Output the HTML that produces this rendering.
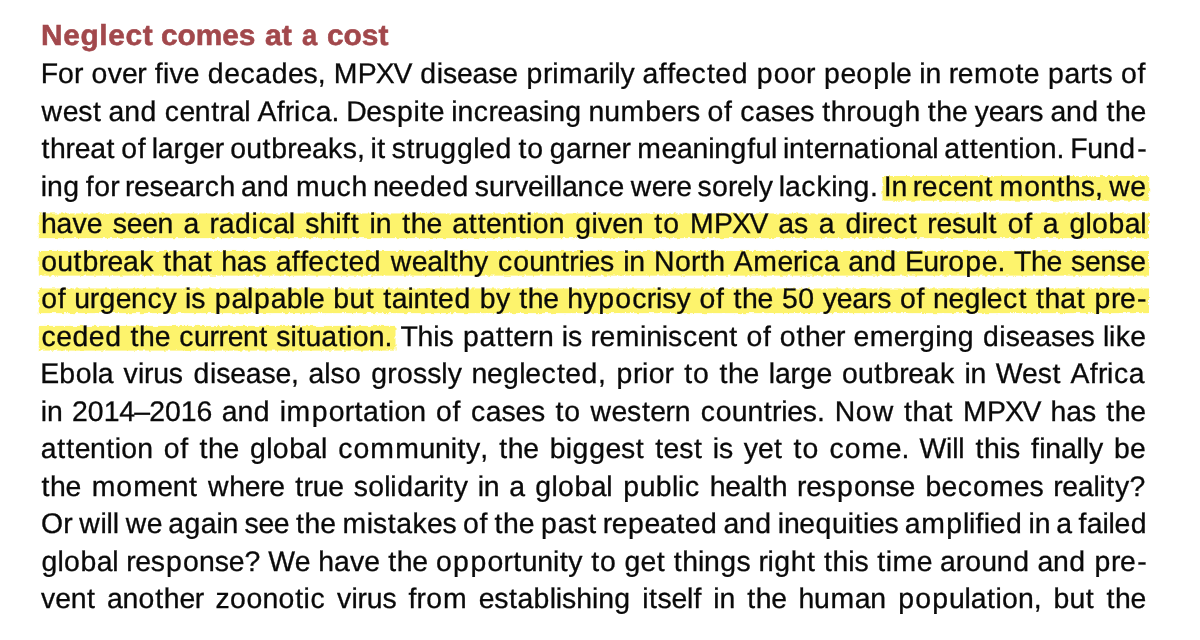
<!DOCTYPE html>
<html lang="en"><head><meta charset="utf-8"><title>Neglect comes at a cost</title>
<style>
html,body{margin:0;padding:0;background:#fff}
body{width:1200px;height:640px;overflow:hidden;position:relative;font-family:"Liberation Sans",sans-serif}
#w{position:absolute;left:0;top:0;width:1200px;height:640px;will-change:transform;text-rendering:geometricPrecision}
#hl{position:absolute;left:0;top:0}
.l{position:absolute;margin:0;left:40.90px;white-space:nowrap;font-size:28.4px;line-height:38px;height:38px;color:#0a0a0a;letter-spacing:0;-webkit-text-stroke:0.3px #0a0a0a}
.l b{font-weight:normal}
.t{position:absolute;margin:0;transform-origin:0 50%;top:17px;font-size:29px;line-height:38px;font-weight:bold;color:#a2484c;white-space:nowrap;-webkit-text-stroke:0.55px #a2484c}
.n13{letter-spacing:-1.3px}
.n10{letter-spacing:-1.0px}
.n8{letter-spacing:-0.8px}
.n6{letter-spacing:-0.6px}
.n5{letter-spacing:-0.5px}
.n4{letter-spacing:-0.4px}
.n3{letter-spacing:-0.3px}
.n2{letter-spacing:-0.2px}
.n1{letter-spacing:-0.1px}
.p1{letter-spacing:0.1px}
.p2{letter-spacing:0.2px}
.p3{letter-spacing:0.3px}
.p4{letter-spacing:0.4px}
.p5{letter-spacing:0.5px}
.p6{letter-spacing:0.6px}
.p7{letter-spacing:0.7px}
.p8{letter-spacing:0.8px}
.p9{letter-spacing:0.9px}
.p10{letter-spacing:1.0px}
.p11{letter-spacing:1.1px}
.p12{letter-spacing:1.2px}
.p13{letter-spacing:1.3px}
.p14{letter-spacing:1.4px}
.p15{letter-spacing:1.5px}
.p17{letter-spacing:1.7px}
.p22{letter-spacing:2.2px}

</style></head>
<body>
<div id="w">
<svg id="hl" width="1200" height="640" viewBox="0 0 1200 640"><defs><filter id="b" filterUnits="userSpaceOnUse" x="0" y="0" width="1200" height="640"><feTurbulence type="fractalNoise" baseFrequency="0.25" numOctaves="2" seed="7" result="n"/><feDisplacementMap in="SourceGraphic" in2="n" scale="3.5" xChannelSelector="R" yChannelSelector="G" result="d"/><feGaussianBlur in="d" stdDeviation="0.4"/></filter></defs><g fill="#fdf36c" filter="url(#b)">
<rect x="882.5" y="176.0" width="266.70" height="24.7"/>
<rect x="38.8" y="213.45" width="1110.20" height="24.7"/>
<rect x="38.8" y="250.95" width="1110.20" height="24.7"/>
<rect x="38.8" y="288.45" width="1110.20" height="24.7"/>
<rect x="38.8" y="325.9" width="356.70" height="24.7"/>
</g></svg>
<div class="t" style="left:40.85px;letter-spacing:0.62px;transform:scaleX(1.0300)">Neglect</div>
<div class="t" style="left:160.67px;letter-spacing:-0.04px;transform:scaleX(1.0300)">comes</div>
<div class="t" style="left:265.05px;letter-spacing:0.00px;transform:scaleX(1.0447)">at</div>
<div class="t" style="left:301.57px;letter-spacing:0.00px;transform:scaleX(0.9434)">a</div>
<div class="t" style="left:326.98px;letter-spacing:-0.02px;transform:scaleX(1.0300)">cost</div>
<p class="l" style="top:55px;text-indent:-0.24px;word-spacing:-0.059px"><span><b class="p1">For</b></span> <span><b class="p5">o</b>v<b class="n4">e</b><b class="p2">r</b></span> <span><b class="p3">f</b><b class="p2">i</b>v<b class="p5">e</b></span> <span><b class="p5">de</b><b class="p6">ca</b><b class="p5">d</b><b class="n2">e</b>s<b class="p4">,</b></span> <span><b class="p3">M</b><b class="n10">P</b><b class="n13">X</b><b class="p1">V</b></span> <span><b class="p6">d</b>i<b class="n2">s</b><b class="n3">e</b>a<b class="n2">s</b><b class="p6">e</b></span> <span><b class="p7">p</b><b class="n3">r</b><b class="p6">im</b><b class="n2">a</b><b class="n3">r</b><b class="n2">i</b>ly</span> <span><b class="p3">a</b><b class="p7">f</b><b class="p1">f</b><b class="p5">e</b><b class="p13">c</b><b class="p4">t</b><b class="p5">e</b><b class="p15">d</b></span> <span><b class="p12">p</b><b class="p6">o</b><b class="p1">o</b><b class="p7">r</b></span> <span><b class="p6">p</b><b class="p1">e</b><b class="p12">o</b><b class="p8">p</b><b class="n3">le</b></span> <span><b class="n2">i</b><b class="n3">n</b></span> <span><b class="n4">r</b><b class="p5">e</b><b class="p10">m</b><b class="p9">o</b><b class="p4">t</b><b class="p6">e</b></span> <span><b class="p8">p</b><b class="n2">a</b><b class="p4">r</b><b class="p6">t</b><b class="p3">s</b></span> <span><b class="p7">o</b><b class="p4">f</b></span></p>
<p class="l" style="top:93px;text-indent:0.72px;word-spacing:-0.813px"><span><b class="p5">w</b><b class="n2">e</b><b class="p6">st</b></span> <span><b class="n2">a</b><b class="p5">n</b><b class="p14">d</b></span> <span><b class="p5">c</b><b class="n4">e</b><b class="p5">n</b><b class="p4">t</b><b class="n2">ral</b></span> <span><b class="p3">A</b><b class="p2">f</b><b class="n3">r</b><b class="p6">ic</b>a<b class="n2">.</b></span> <span><b class="n5">D</b><b class="n2">e</b><b class="p9">s</b><b class="p8">p</b><b class="p5">i</b><b class="p4">t</b><b class="n3">e</b></span> <span><b class="n2">i</b><b class="p6">n</b><b class="p5">c</b><b class="n4">r</b><b class="n3">e</b>as<b class="n2">i</b><b class="p4">ng</b></span> <span><b class="n2">n</b><b class="p6">u</b><b class="p11">m</b><b class="p2">b</b><b class="n4">e</b><b class="n2">r</b><b class="p3">s</b></span> <span><b class="p7">o</b><b class="p11">f</b></span> <span><b class="p6">c</b>a<b class="n2">se</b><b class="p6">s</b></span> <span><b class="p6">t</b><b class="n2">h</b><b class="p1">r</b><b class="p2">o</b><b class="p4">u</b><b class="p5">g</b><b class="p6">h</b></span> <span><b class="p6">t</b><b class="n2">h</b><b class="n1">e</b></span> <span><b class="n1">y</b><b class="n3">e</b><b class="n2">ar</b>s</span> <span><b class="n2">a</b><b class="p5">n</b><b class="p13">d</b></span> <span><b class="p6">t</b><b class="n2">he</b></span></p>
<p class="l" style="top:130px;text-indent:0.60px;word-spacing:-2.036px"><span><b class="p6">t</b><b class="n2">h</b><b class="n4">r</b><b class="n3">e</b><b class="p6">a</b><b class="p9">t</b></span> <span><b class="p7">o</b><b class="p3">f</b></span> <span><b class="n2">la</b><b class="p3">rg</b><b class="n4">e</b><b class="p1">r</b></span> <span><b class="p2">o</b><b class="p5">u</b><b class="p10">t</b><b class="p2">b</b><b class="n4">r</b><b class="n3">e</b><b class="p4">ak</b>s<b class="n1">,</b></span> <span><b class="p5">i</b><b class="p6">t</b></span> <span><b class="p6">s</b><b class="p4">t</b><b class="n3">r</b><b class="p4">u</b><b class="p10">g</b><b class="p4">g</b><b class="n3">l</b><b class="p5">e</b><b class="p13">d</b></span> <span><b class="p9">t</b><b class="p8">o</b></span> <span><b class="p5">g</b><b class="n2">a</b><b class="n3">r</b><b class="n4">ne</b><b class="p5">r</b></span> <span><b class="p5">m</b><b class="n3">e</b><b class="n2">ani</b><b class="p4">n</b><b class="p9">g</b><b class="p3">f</b><b class="n2">ul</b></span> <span><b class="n2">i</b><b class="p5">n</b><b class="p4">t</b><b class="n4">e</b><b class="n3">r</b><b class="n2">n</b><b class="p6">a</b><b class="p5">t</b><b class="p3">i</b><b class="p2">o</b><b class="n2">nal</b></span> <span><b class="p6">a</b><b class="p12">t</b><b class="p4">t</b><b class="n4">e</b><b class="p5">nt</b><b class="p3">i</b><b class="p2">o</b>n<b class="n1">.</b></span> <span><b class="n3">F</b><b class="n2">u</b><b class="p5">n</b><b class="p22">d</b><b class="p15">-</b></span></p>
<p class="l" style="top:168px;text-indent:-0.05px;word-spacing:-2.115px"><span><b class="n2">i</b><b class="p4">n</b><b class="p9">g</b></span> <span><b class="p7">f</b><b class="p1">o</b><b class="n4">r</b></span> <span><b class="n4">r</b><b class="n2">es</b><b class="n3">e</b><b class="n2">a</b><b class="p5">r</b><b class="p7">c</b><b class="n1">h</b></span> <span><b class="n2">a</b><b class="p5">n</b><b class="p14">d</b></span> <span><b class="p6">mu</b><b class="p7">c</b><b class="n2">h</b></span> <span><b class="n4">ne</b><b class="p5">ede</b><b class="p7">d</b></span> <span><b class="n1">s</b><b class="n3">u</b>rv<b class="n3">e</b><b class="n2">illa</b><b class="p6">n</b><b class="p5">ce</b></span> <span><b class="p5">w</b><b class="n4">er</b><b class="n2">e</b></span> <span><b class="p3">s</b><b class="p1">o</b><b class="n4">r</b><b class="n3">e</b>ly</span> <span><b class="n2">l</b><b class="p6">a</b><b class="p11">c</b><b class="p4">k</b><b class="n2">i</b><b class="p4">n</b><b class="p6">g</b><b class="p1">.</b></span> <span><b class="n1">I</b><b class="n3">n</b></span> <span><b class="n4">r</b><b class="p5">ec</b><b class="n4">e</b><b class="p5">n</b><b class="p13">t</b></span> <span><b class="p10">m</b><b class="p2">o</b><b class="p5">n</b><b class="p6">t</b>hs<b class="p7">,</b></span> <span><b class="p5">w</b><b class="n2">e</b></span></p>
<p class="l" style="top:205px;text-indent:-0.01px;word-spacing:2.459px"><span><b class="n1">h</b><b class="p2">a</b>v<b class="n2">e</b></span> <span><b class="n2">s</b><b class="n4">ee</b><b class="n2">n</b></span> <span><b class="n2">a</b></span> <span><b class="n2">r</b><b class="p6">adic</b><b class="n2">a</b><b class="n1">l</b></span> <span>s<b class="n1">h</b><b class="p3">i</b><b class="p10">f</b><b class="p5">t</b></span> <span><b class="n2">i</b><b class="p5">n</b></span> <span><b class="p6">t</b><b class="n2">h</b><b class="n3">e</b></span> <span><b class="p6">a</b><b class="p12">t</b><b class="p4">t</b><b class="n4">e</b><b class="p5">nt</b><b class="p3">i</b><b class="p2">o</b><b class="p4">n</b></span> <span><b class="p5">g</b><b class="p2">i</b>v<b class="n4">e</b><b class="p5">n</b></span> <span><b class="p9">t</b><b class="p8">o</b></span> <span><b class="p3">M</b><b class="n10">P</b><b class="n13">X</b><b class="n6">V</b></span> <span>as</span> <span><b class="p6">a</b></span> <span><b class="p6">d</b><b class="n3">i</b><b class="n4">r</b><b class="p5">e</b><b class="p13">c</b><b class="p4">t</b></span> <span><b class="n4">r</b><b class="n2">e</b><b class="n1">s</b><b class="n2">u</b><b class="p5">l</b><b class="p9">t</b></span> <span><b class="p7">o</b><b class="p3">f</b></span> <span><b class="p5">a</b></span> <span><b class="p4">g</b><b class="p2">l</b><b class="p7">o</b><b class="p3">b</b><b class="n2">a</b><b class="n1">l</b></span></p>
<p class="l" style="top:243px;text-indent:0.31px;word-spacing:0.952px"><span><b class="p2">o</b><b class="p5">u</b><b class="p10">t</b><b class="p2">b</b><b class="n4">r</b><b class="n3">e</b><b class="p4">a</b><b class="p10">k</b></span> <span><b class="p6">t</b><b class="n1">h</b><b class="p6">at</b></span> <span><b class="n1">h</b>as</span> <span><b class="p3">a</b><b class="p7">f</b><b class="p1">f</b><b class="p5">e</b><b class="p13">c</b><b class="p4">t</b><b class="p5">e</b><b class="p14">d</b></span> <span><b class="p5">w</b><b class="n3">e</b><b class="n2">a</b><b class="p5">l</b><b class="p6">t</b><b class="p1">h</b><b class="p8">y</b></span> <span><b class="p10">c</b><b class="p2">o</b><b class="n2">u</b><b class="p5">n</b><b class="p4">t</b><b class="n3">ri</b><b class="n2">e</b>s</span> <span><b class="n2">i</b><b class="p1">n</b></span> <span><b class="p5">N</b><b class="p1">o</b><b class="p4">r</b><b class="p6">t</b><b class="n1">h</b></span> <span><b class="p6">A</b><b class="p5">m</b><b class="n4">e</b><b class="n3">r</b><b class="p6">ic</b><b class="n1">a</b></span> <span><b class="n2">a</b><b class="p5">n</b><b class="p1">d</b></span> <span><b class="n6">E</b><b class="n3">u</b><b class="p1">r</b><b class="p12">o</b><b class="p6">p</b><b class="n1">e</b><b class="n2">.</b></span> <span><b class="n3">T</b><b class="n2">he</b></span> <span><b class="n2">s</b><b class="n4">e</b><b class="n1">n</b><b class="n2">se</b></span></p>
<p class="l" style="top:280px;text-indent:0.31px;word-spacing:0.500px"><span><b class="p7">o</b><b class="p3">f</b></span> <span><b class="n3">u</b><b class="p3">rg</b><b class="n4">e</b><b class="p6">n</b><b class="p8">c</b>y</span> <span>i<b class="p9">s</b></span> <span><b class="p8">p</b><b class="n2">a</b><b class="p8">lp</b><b class="p3">ab</b><b class="n3">l</b><b class="p2">e</b></span> <span><b class="p3">b</b><b class="p5">u</b><b class="p12">t</b></span> <span><b class="p6">t</b><b class="n1">a</b><b class="n2">i</b><b class="p5">n</b><b class="p4">t</b><b class="p5">e</b><b class="p11">d</b></span> <span><b class="p5">b</b><b class="p7">y</b></span> <span><b class="p6">t</b><b class="n2">he</b></span> <span><b class="p1">h</b><b class="p9">y</b><b class="p12">p</b><b class="p10">o</b><b class="p5">c</b><b class="n3">r</b>i<b class="p1">s</b><b class="p4">y</b></span> <span><b class="p7">o</b><b class="p10">f</b></span> <span><b class="p6">t</b><b class="n2">h</b><b class="p2">e</b></span> <span><b class="p6">5</b><b class="p3">0</b></span> <span><b class="n1">y</b><b class="n3">e</b><b class="n2">ar</b><b class="p3">s</b></span> <span><b class="p7">o</b><b class="p2">f</b></span> <span><b class="n4">n</b><b class="p3">e</b><b class="p4">g</b><b class="n3">l</b><b class="p5">e</b><b class="p13">c</b><b class="p12">t</b></span> <span><b class="p6">t</b><b class="n1">h</b><b class="p6">a</b><b class="p15">t</b></span> <span><b class="p7">p</b><b class="n4">r</b><b class="p13">e</b><b class="p15">-</b></span></p>
<p class="l" style="top:318px;text-indent:0.70px;word-spacing:0.414px"><span><b class="p5">cede</b><b class="p13">d</b></span> <span><b class="p6">t</b><b class="n2">h</b><b class="p5">e</b></span> <span><b class="p6">c</b><b class="n3">u</b><b class="n4">rre</b><b class="p5">n</b><b class="p6">t</b></span> <span>s<b class="p5">it</b><b class="n1">u</b><b class="p6">a</b><b class="p5">t</b><b class="p3">i</b><b class="p2">o</b>n<b class="n2">.</b></span> <span><b class="n3">T</b><b class="n1">h</b>i<b class="p9">s</b></span> <span><b class="p8">p</b><b class="p6">a</b><b class="p12">t</b><b class="p4">t</b><b class="n4">e</b><b class="n3">r</b><b class="n2">n</b></span> <span>i<b class="n2">s</b></span> <span><b class="n4">r</b><b class="p5">e</b><b class="p6">m</b><b class="n2">in</b>i<b class="p7">s</b><b class="p5">c</b><b class="n4">e</b><b class="p5">n</b><b class="p9">t</b></span> <span><b class="p7">of</b></span> <span><b class="p9">o</b><b class="p6">t</b><b class="n2">h</b><b class="n4">er</b></span> <span><b class="p5">em</b><b class="n4">e</b><b class="p3">r</b><b class="p5">g</b><b class="n2">i</b><b class="p4">n</b><b class="p12">g</b></span> <span><b class="p6">d</b>i<b class="n2">s</b><b class="n3">e</b>a<b class="n2">se</b><b class="n1">s</b></span> <span><b class="n2">l</b><b class="p4">i</b><b class="p2">k</b><b class="n2">e</b></span></p>
<p class="l" style="top:355px;text-indent:-0.55px;word-spacing:1.876px"><span><b class="n1">E</b><b class="p7">b</b><b class="p2">o</b><b class="n2">l</b><b class="p2">a</b></span> <span><b class="p2">v</b><b class="n3">ir</b><b class="n1">u</b><b class="p7">s</b></span> <span><b class="p6">d</b>i<b class="n2">s</b><b class="n3">e</b>a<b class="n2">s</b><b class="n3">e</b><b class="n1">,</b></span> <span><b class="n2">a</b><b class="n1">l</b><b class="p3">s</b><b class="p8">o</b></span> <span><b class="p3">g</b><b class="p1">r</b><b class="p3">o</b>s<b class="n1">s</b>l<b class="n1">y</b></span> <span><b class="n4">n</b><b class="p3">e</b><b class="p4">g</b><b class="n3">l</b><b class="p5">e</b><b class="p13">c</b><b class="p4">t</b><b class="p5">e</b><b class="p6">d</b><b class="p8">,</b></span> <span><b class="p7">p</b><b class="n3">r</b><b class="p3">i</b><b class="p1">o</b><b class="p4">r</b></span> <span><b class="p9">to</b></span> <span><b class="p6">t</b><b class="n2">h</b><b class="n3">e</b></span> <span><b class="n2">la</b><b class="p3">rg</b><b class="p1">e</b></span> <span><b class="p2">o</b><b class="p5">u</b><b class="p10">t</b><b class="p2">b</b><b class="n4">r</b><b class="n3">e</b><b class="p4">ak</b></span> <span><b class="n2">i</b><b class="n4">n</b></span> <span><b class="n4">W</b><b class="n2">e</b><b class="p6">s</b><b class="p5">t</b></span> <span><b class="p3">A</b><b class="p2">f</b><b class="n3">r</b><b class="p6">ic</b><b class="n1">a</b></span></p>
<p class="l" style="top:393px;text-indent:-0.05px;word-spacing:1.626px"><span><b class="n2">i</b><b class="n3">n</b></span> <span>2<b class="p1">0</b><b class="n1">1</b><b class="n8">4</b><b class="n10">–</b>2<b class="p1">0</b><b class="n1">1</b>6</span> <span><b class="n2">a</b><b class="p5">n</b><b class="p6">d</b></span> <span><b class="p6">i</b><b class="p15">m</b><b class="p12">p</b><b class="p1">o</b><b class="p4">r</b><b class="p6">ta</b><b class="p5">t</b><b class="p3">i</b><b class="p2">on</b></span> <span><b class="p7">o</b><b class="p11">f</b></span> <span><b class="p6">c</b>a<b class="n2">se</b><b class="p6">s</b></span> <span><b class="p9">t</b><b class="p10">o</b></span> <span><b class="p5">w</b><b class="n2">e</b><b class="p6">s</b><b class="p4">t</b><b class="n4">e</b><b class="n3">r</b><b class="p6">n</b></span> <span><b class="p10">c</b><b class="p2">o</b><b class="n2">u</b><b class="p5">n</b><b class="p4">t</b><b class="n3">ri</b><b class="n2">e</b><b class="p1">s</b><b class="p3">.</b></span> <span><b class="p5">N</b><b class="p10">o</b><b class="p13">w</b></span> <span><b class="p6">t</b><b class="n1">h</b><b class="p6">a</b><b class="p11">t</b></span> <span><b class="p3">M</b><b class="n10">P</b><b class="n13">X</b><b class="n6">V</b></span> <span><b class="n1">h</b>a<b class="p6">s</b></span> <span><b class="p6">t</b><b class="n2">he</b></span></p>
<p class="l" style="top:430px;text-indent:-0.05px;word-spacing:2.488px"><span><b class="p6">a</b><b class="p12">t</b><b class="p4">t</b><b class="n4">e</b><b class="p5">nt</b><b class="p3">i</b><b class="p2">on</b></span> <span><b class="p7">o</b><b class="p10">f</b></span> <span><b class="p6">t</b><b class="n2">h</b><b class="p3">e</b></span> <span><b class="p4">g</b><b class="p2">l</b><b class="p7">o</b><b class="p3">b</b><b class="n2">a</b><b class="p6">l</b></span> <span><b class="p10">co</b><b class="p13">m</b><b class="p6">m</b><b class="n2">un</b><b class="p5">i</b><b class="p7">t</b>y<b class="p6">,</b></span> <span><b class="p6">t</b><b class="n2">h</b><b class="p2">e</b></span> <span><b class="p3">b</b><b class="p5">i</b><b class="p10">g</b><b class="p3">g</b><b class="n2">e</b><b class="p6">s</b><b class="p12">t</b></span> <span><b class="p4">t</b><b class="n2">e</b><b class="p6">s</b><b class="p5">t</b></span> <span>i<b class="p1">s</b></span> <span><b class="n1">y</b><b class="p4">e</b><b class="p12">t</b></span> <span><b class="p9">t</b><b class="p10">o</b></span> <span><b class="p10">co</b><b class="p5">m</b><b class="n1">e.</b></span> <span><b class="n3">W</b><b class="n2">il</b><b class="p5">l</b></span> <span><b class="p6">t</b><b class="n1">h</b>i<b class="p4">s</b></span> <span><b class="p3">f</b><b class="n2">inal</b>l<b class="p5">y</b></span> <span><b class="p2">b</b><b class="n2">e</b></span></p>
<p class="l" style="top:468px;text-indent:0.60px;word-spacing:1.921px"><span><b class="p6">t</b><b class="n2">h</b><b class="p5">e</b></span> <span><b class="p10">mo</b><b class="p5">m</b><b class="n4">e</b><b class="p5">n</b><b class="p13">t</b></span> <span><b class="p7">w</b><b class="n2">h</b><b class="n4">er</b><b class="p4">e</b></span> <span><b class="p4">t</b><b class="n3">ru</b><b class="n2">e</b></span> <span><b class="p3">s</b><b class="p2">o</b><b class="n2">l</b><b class="p6">id</b><b class="n2">a</b><b class="n3">r</b><b class="p5">i</b><b class="p7">t</b>y</span> <span><b class="n2">in</b></span> <span><b class="p5">a</b></span> <span><b class="p4">g</b><b class="p2">l</b><b class="p7">o</b><b class="p3">b</b><b class="n2">a</b><b class="p8">l</b></span> <span><b class="p8">p</b><b class="p3">ub</b><b class="n2">l</b><b class="p6">i</b><b class="p7">c</b></span> <span><b class="n2">h</b><b class="n3">e</b><b class="n2">a</b><b class="p5">l</b><b class="p6">t</b><b class="n2">h</b></span> <span><b class="n4">r</b><b class="n2">e</b><b class="p9">s</b><b class="p12">p</b><b class="p2">o</b><b class="n1">n</b><b class="n2">s</b><b class="p2">e</b></span> <span><b class="p2">b</b><b class="p5">e</b><b class="p10">co</b><b class="p5">m</b><b class="n2">es</b></span> <span><b class="n4">r</b><b class="n3">e</b><b class="n2">al</b><b class="p5">i</b><b class="p7">t</b><b class="p4">y</b><b class="p3">?</b></span></p>
<p class="l" style="top:505px;text-indent:0.21px;word-spacing:-1.836px"><span>O<b class="p5">r</b></span> <span><b class="p7">w</b><b class="n2">il</b><b class="p6">l</b></span> <span><b class="p5">w</b><b class="n3">e</b></span> <span><b class="p5">ag</b><b class="n1">a</b><b class="n2">i</b><b class="n1">n</b></span> <span><b class="n2">s</b><b class="n4">e</b><b class="p4">e</b></span> <span><b class="p6">t</b><b class="n2">h</b><b class="p5">e</b></span> <span><b class="p6">m</b>i<b class="p6">st</b><b class="p4">a</b><b class="p2">k</b><b class="n2">e</b><b class="p3">s</b></span> <span><b class="p7">o</b><b class="p10">f</b></span> <span><b class="p6">t</b><b class="n2">h</b><b class="p6">e</b></span> <span><b class="p8">p</b>a<b class="p6">s</b><b class="p4">t</b></span> <span><b class="n4">r</b><b class="p6">ep</b><b class="n3">e</b><b class="p6">a</b><b class="p4">t</b><b class="p5">e</b><b class="p6">d</b></span> <span><b class="n2">a</b><b class="p5">n</b><b class="p6">d</b></span> <span><b class="n2">i</b><b class="n4">n</b><b class="p5">e</b><b class="p6">q</b><b class="n1">u</b><b class="p5">it</b><b class="n3">i</b><b class="n2">e</b>s</span> <span><b class="p6">a</b><b class="p15">m</b><b class="p8">p</b><b class="n2">l</b><b class="p3">if</b><b class="n3">i</b><b class="p5">e</b><b class="p6">d</b></span> <span><b class="n2">in</b></span> <span><b class="p3">a</b></span> <span><b class="p3">f</b><b class="n1">a</b><b class="n2">i</b><b class="n3">l</b><b class="p5">e</b><b class="p7">d</b></span></p>
<p class="l" style="top:543px;text-indent:0.50px;word-spacing:-0.007px"><span><b class="p4">g</b><b class="p2">l</b><b class="p7">o</b><b class="p3">b</b><b class="n2">a</b><b class="n3">l</b></span> <span><b class="n4">r</b><b class="n2">e</b><b class="p9">s</b><b class="p12">p</b><b class="p2">o</b><b class="n1">n</b><b class="n2">s</b><b class="p1">e?</b></span> <span><b class="n4">W</b><b class="n2">e</b></span> <span><b class="n1">h</b><b class="p2">a</b>v<b class="p4">e</b></span> <span><b class="p6">t</b><b class="n2">h</b><b class="p1">e</b></span> <span><b class="p12">o</b><b class="p17">p</b><b class="p12">p</b><b class="p1">o</b><b class="p4">r</b><b class="p5">t</b><b class="n2">un</b><b class="p5">i</b><b class="p7">ty</b></span> <span><b class="p9">t</b><b class="p8">o</b></span> <span><b class="p3">g</b><b class="p4">e</b><b class="p12">t</b></span> <span><b class="p6">t</b><b class="n1">h</b><b class="n2">i</b><b class="p4">n</b><b class="p5">g</b><b class="n2">s</b></span> <span><b class="n3">r</b><b class="p5">ig</b><b class="p6">h</b><b class="p12">t</b></span> <span><b class="p6">t</b><b class="n1">h</b>i<b class="p6">s</b></span> <span><b class="p5">t</b><b class="p6">i</b><b class="p5">m</b><b class="n3">e</b></span> <span><b class="n2">a</b><b class="p1">r</b><b class="p2">o</b><b class="n2">u</b><b class="p5">n</b><b class="p6">d</b></span> <span><b class="n2">a</b><b class="p5">n</b><b class="p15">d</b></span> <span><b class="p7">p</b><b class="n4">r</b><b class="p13">e</b><b class="p15">-</b></span></p>
<p class="l" style="top:580px;text-indent:0.22px;word-spacing:3.618px"><span>v<b class="n4">e</b><b class="p5">n</b><b class="p6">t</b></span> <span><b class="n2">a</b><b class="p2">n</b><b class="p9">o</b><b class="p6">t</b><b class="n2">h</b><b class="n4">e</b><b class="n2">r</b></span> <span><b class="p3">z</b><b class="p6">o</b><b class="p2">on</b><b class="p9">o</b><b class="p5">t</b><b class="p6">i</b><b class="p9">c</b></span> <span><b class="p2">v</b><b class="n3">ir</b><b class="n1">u</b><b class="p4">s</b></span> <span><b class="p2">f</b><b class="p1">r</b><b class="p10">o</b><b class="p5">m</b></span> <span><b class="n2">e</b><b class="p6">st</b><b class="p3">ab</b><b class="n2">l</b>is<b class="n1">h</b><b class="n2">i</b><b class="p4">n</b><b class="p5">g</b></span> <span><b class="p5">i</b><b class="p6">t</b><b class="n2">s</b><b class="n3">e</b><b class="p3">lf</b></span> <span><b class="n2">i</b><b class="p5">n</b></span> <span><b class="p6">t</b><b class="n2">he</b></span> <span><b class="n1">h</b><b class="p6">um</b><b class="n2">a</b><b class="p7">n</b></span> <span><b class="p12">po</b><b class="p8">p</b><b class="n2">ul</b><b class="p6">a</b><b class="p5">t</b><b class="p3">i</b><b class="p2">o</b><b class="n2">n</b><b class="p4">,</b></span> <span><b class="p3">b</b><b class="p5">u</b><b class="p12">t</b></span> <span><b class="p6">t</b><b class="n2">he</b></span></p>
</div>
</body></html>
